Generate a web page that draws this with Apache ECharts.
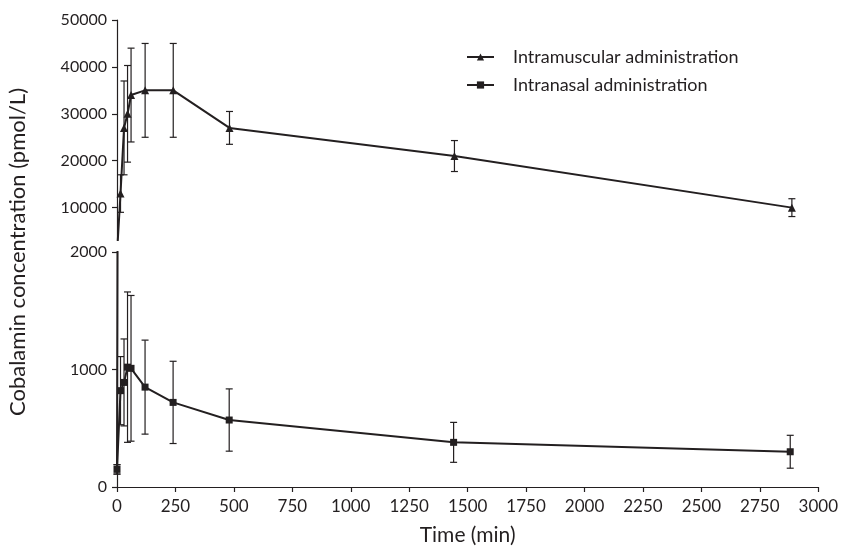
<!DOCTYPE html>
<html>
<head>
<meta charset="utf-8">
<script src="https://cdn.jsdelivr.net/npm/echarts@6/dist/echarts.min.js"></script>
<style>html,body{margin:0;background:#fff}#chart{width:841px;height:547px}</style>
</head>
<body>
<div id="chart"></div>
<script>
// sampling times (min) and mean +/- sd
var times = [0, 15, 30, 45, 60, 120, 240, 480, 1440, 2880];
var imMean = [150, 13000, 27000, 30000, 34000, 35000, 35000, 27000, 21000, 10000];
var imSd = [40, 4000, 10000, 10300, 10000, 10000, 10000, 3500, 3300, 1900];
var inMean = [150, 820, 890, 1020, 1010, 850, 720, 570, 380, 300];
var inSd = [40, 290, 370, 640, 620, 400, 350, 265, 170, 140];
var topTicks = [10000, 20000, 30000, 40000, 50000];
var seriesNames = ['Intramuscular administration', 'Intranasal administration'];

var ink = '#231f20';
var font = 'Lato';
var topMin = 3100, topMax = 50000;

function pairs(xs, ys) {
  return xs.map(function(x, i) { return [x, ys[i]]; });
}

function plain(v) { return String(v); } // no thousands separator

function errorBars(xAxisIndex, yAxisIndex, mean, sd, lo, hi) {
  return {
    type: 'custom',
    xAxisIndex: xAxisIndex, yAxisIndex: yAxisIndex,
    silent: true, z: 1,
    data: times.map(function(t, i) { return [t, mean[i] - sd[i], mean[i] + sd[i]]; }),
    renderItem: function(params, api) {
      var lower = api.value(1), upper = api.value(2);
      if (upper < lo || lower > hi) return null;
      var a = api.coord([api.value(0), Math.max(lower, lo)]);
      var b = api.coord([api.value(0), Math.min(upper, hi)]);
      var w = 3.5;
      var style = {stroke: ink, lineWidth: 1.2};
      var kids = [{type: 'line', shape: {x1: a[0], y1: a[1], x2: b[0], y2: b[1]}, style: style}];
      if (lower >= lo) kids.push({type: 'line', shape: {x1: a[0] - w, y1: a[1], x2: a[0] + w, y2: a[1]}, style: style});
      if (upper <= hi) kids.push({type: 'line', shape: {x1: b[0] - w, y1: b[1], x2: b[0] + w, y2: b[1]}, style: style});
      return {type: 'group', children: kids};
    }
  };
}

var yLabel = {color: ink, fontFamily: font, fontSize: 16, formatter: plain};
var xLabel = {color: ink, fontFamily: font, fontSize: 17, formatter: plain};
var lineStyle = {color: ink, width: 1.2};

var chart = echarts.init(document.getElementById('chart'));
chart.setOption({
  animation: false,
  backgroundColor: '#fff',
  grid: [
    {left: 117, right: 21, top: 20, height: 220},
    {left: 117, right: 21, top: 252, bottom: 60}
  ],
  legend: {
    data: seriesNames,
    orient: 'vertical',
    left: 461, top: 43,
    itemWidth: 27, itemHeight: 9, itemGap: 10,
    textStyle: {color: ink, fontFamily: font, fontSize: 18, padding: [0, 0, 0, 14]}
  },
  xAxis: [
    {gridIndex: 0, type: 'value', min: 0, max: 3000, show: false},
    {
      gridIndex: 1, type: 'value', min: 0, max: 3000, interval: 250,
      name: 'Time (min)', nameLocation: 'middle', nameGap: 38,
      nameTextStyle: {color: ink, fontFamily: font, fontSize: 21},
      axisLine: {lineStyle: lineStyle},
      axisTick: {length: 5, lineStyle: lineStyle},
      axisLabel: Object.assign({margin: 11}, xLabel),
      splitLine: {show: false}
    }
  ],
  yAxis: [
    {
      gridIndex: 0, type: 'value', min: topMin, max: topMax,
      axisLine: {show: true, lineStyle: lineStyle},
      axisTick: {show: true, length: 5, lineStyle: lineStyle, customValues: topTicks},
      axisLabel: Object.assign({margin: 10, customValues: topTicks}, yLabel),
      splitLine: {show: false}
    },
    {
      gridIndex: 1, type: 'value', min: 0, max: 2000, interval: 1000,
      axisLine: {show: true, lineStyle: lineStyle},
      axisTick: {show: true, length: 5, lineStyle: lineStyle},
      axisLabel: Object.assign({margin: 10}, yLabel),
      splitLine: {show: false}
    }
  ],
  graphic: [{
    type: 'text', x: 18, y: 252, rotation: Math.PI / 2,
    style: {
      text: 'Cobalamin concentration (pmol/L)', fill: ink, font: '22px Lato',
      textAlign: 'center', textVerticalAlign: 'middle'
    }
  }],
  series: [
    {
      name: seriesNames[0], type: 'line', xAxisIndex: 0, yAxisIndex: 0,
      data: pairs(times, imMean), symbol: 'triangle', symbolSize: 8,
      lineStyle: {color: ink, width: 2}, itemStyle: {color: ink}, z: 3
    },
    {
      name: seriesNames[1], type: 'line', xAxisIndex: 1, yAxisIndex: 1,
      data: pairs(times, inMean), symbol: 'rect', symbolSize: 7,
      lineStyle: {color: ink, width: 2}, itemStyle: {color: ink}, z: 3
    },
    {
      name: seriesNames[0], type: 'line', xAxisIndex: 1, yAxisIndex: 1,
      data: pairs(times, imMean), showSymbol: false,
      lineStyle: {color: ink, width: 2}, itemStyle: {color: ink}, z: 3
    },
    errorBars(0, 0, imMean, imSd, topMin, topMax),
    errorBars(1, 1, inMean, inSd, 0, 2000),
    errorBars(1, 1, imMean, imSd, 0, 2000)
  ]
});
</script>
</body>
</html>
